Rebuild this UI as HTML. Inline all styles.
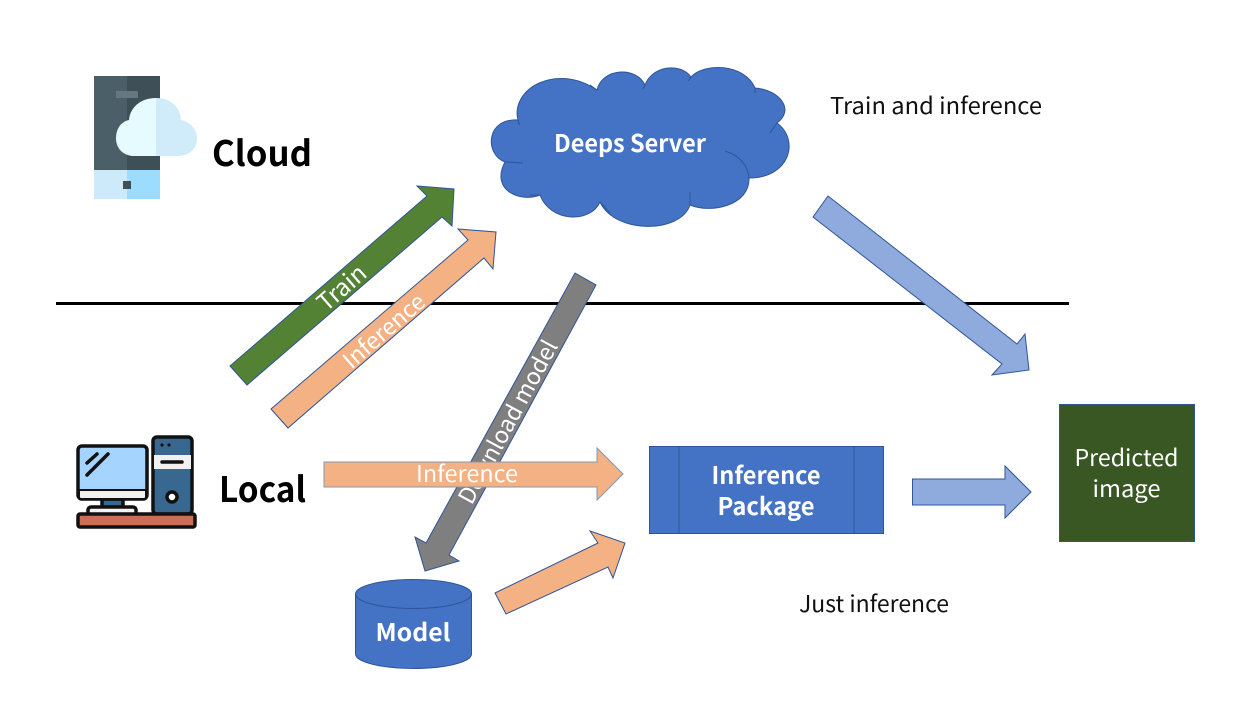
<!DOCTYPE html>
<html><head><meta charset="utf-8"><style>
html,body{margin:0;padding:0;background:#fff}
svg{display:block}
text{font-family:"Noto Sans CJK SC","Liberation Sans",sans-serif}
</style></head><body>
<svg width="1239" height="726" viewBox="0 0 1239 726" xmlns="http://www.w3.org/2000/svg">
<rect width="1239" height="726" fill="#fff"/>

<!-- phone cloud icon -->
<rect x="94" y="76" width="33" height="94" fill="#4a5f68"/>
<rect x="127" y="76" width="33" height="94" fill="#3f4f57"/>
<rect x="94" y="170" width="33" height="29" fill="#cdeafb"/>
<rect x="127" y="170" width="33" height="29" fill="#9bdcff"/>
<rect x="116" y="91" width="22" height="7" fill="#66787f"/>
<rect x="123" y="181" width="8" height="8" fill="#3f4f57"/>
<path d="M156 98C140 98 130 108 129 120C120 122 116 130 116 138C116 150 125 156 134 156H156Z" fill="#e6fbff"/>
<path d="M156 98C172 98 180 108 181 120C191 122 197 130 197 138C197 150 188 156 178 156H156Z" fill="#d0ecfb"/>

<!-- computer icon -->
<g stroke="#111" stroke-width="3.5" stroke-linejoin="round" stroke-linecap="round">
<rect x="102" y="499" width="21" height="8" fill="#38688f"/>
<rect x="88" y="507" width="48" height="8" rx="3" fill="#f4f4f4"/>
<rect x="78" y="446" width="69" height="53" rx="4" fill="#a4d4ff"/>
<path d="M79 490H146V497a2 2 0 0 1-2 2H81a2 2 0 0 1-2-2z" fill="#f1f1f1" stroke-width="2"/>
<path d="M87 463L97 454M87 475L108 454" fill="none"/>
<rect x="153" y="437" width="39" height="77" rx="4" fill="#38688f"/>
<rect x="154" y="455" width="37" height="14" fill="#f1f1f1" stroke="none"/>
<path d="M162 462H182" fill="none"/>
<circle cx="172" cy="497" r="5" fill="#fff"/>
<rect x="78" y="514" width="117" height="13" rx="2" fill="#c96f55"/>
</g>
<circle cx="162" cy="445" r="1.6" fill="#111"/><circle cx="169" cy="445" r="1.6" fill="#111"/>

<text x="212" y="166" font-size="35" font-weight="700" textLength="100" lengthAdjust="spacingAndGlyphs">Cloud</text>
<text x="219" y="502" font-size="35" font-weight="700" textLength="87" lengthAdjust="spacingAndGlyphs">Local</text>

<!-- divider -->
<path d="M56 303.5H1069" stroke="#000" stroke-width="3" fill="none"/>

<!-- server cloud -->
<path d="M518 120C510 90 555 62 597 90C602 68 636 66 645 85C652 66 680 62 691 77C705 62 745 64 755 88C780 90 795 110 777 123C800 140 790 178 749 178C750 205 712 214 690 205C680 234 615 234 600 202C590 224 550 222 540 195C520 203 490 190 505 162C485 155 485 118 518 120Z" fill="#4472c4" stroke="#2f5597" stroke-width="1"/>
<path d="M518 120Q519 124 520 125M590 85L597 90M645 85L643 89M691 77L688 81M755 88L755 93M777 123L770 133M725 151Q747 158 749 178M690 192L690 205M600 202L610 213M530 195L540 195M505 162L523 163" fill="none" stroke="#2f5597" stroke-width="1"/>
<text x="630" y="152" font-size="24" font-weight="700" fill="#fff" text-anchor="middle" textLength="152" lengthAdjust="spacingAndGlyphs">Deeps Server</text>

<text x="830" y="114" font-size="23" fill="#111" textLength="212" lengthAdjust="spacingAndGlyphs">Train and inference</text>
<text x="799" y="612" font-size="23" fill="#111" textLength="150" lengthAdjust="spacingAndGlyphs">Just inference</text>

<!-- green arrow -->
<polygon points="230,366 427,196 417,186 454,189 452,226 442,217 247,385" fill="#548235" stroke="#2f5597" stroke-width="1"/>
<text transform="translate(342,288) rotate(-41)" x="0" y="8" font-size="24" fill="#fff" text-anchor="middle" textLength="56" lengthAdjust="spacingAndGlyphs">Train</text>

<!-- orange inference diagonal -->
<polygon points="271,409 468,240 458,229 496,232 493,269 484,258 288,428" fill="#f4b183" stroke="#2f5597" stroke-width="1"/>
<text transform="translate(384,331) rotate(-41)" x="0" y="8" font-size="23" fill="#fff" text-anchor="middle" textLength="100" lengthAdjust="spacingAndGlyphs">Inference</text>

<!-- big blue arrow -->
<polygon points="828,196 1017,344 1025,334 1029,370 992,375 1002,364 813,217" fill="#8faadc" stroke="#2f5597" stroke-width="1"/>

<!-- gray arrow -->
<polygon points="575,273 596,285 449,555 459,561 425,571 415,537 426,543" fill="#7f7f7f" stroke="#2f5597" stroke-width="1"/>
<text transform="translate(508,422) rotate(-61.5)" x="0" y="8" font-size="23" fill="#fff" text-anchor="middle" textLength="182" lengthAdjust="spacingAndGlyphs">Download model</text>

<!-- horizontal inference -->
<polygon points="324,462 597,462 597,448 623,474 597,500 597,487 324,487" fill="#f4b183" stroke="#8497b0" stroke-width="1"/>
<text x="467" y="482" font-size="23" fill="#fff" text-anchor="middle" textLength="102" lengthAdjust="spacingAndGlyphs">Inference</text>

<!-- small orange -->
<polygon points="495,593 598,543 590,531 625,543 613,578 608,567 506,614" fill="#f4b183" stroke="#2f5597" stroke-width="1"/>

<!-- model -->
<path d="M355.5 594V654A58 14.5 0 0 0 471.5 654V594A58 14.5 0 0 0 355.5 594Z" fill="#4472c4" stroke="#2f5597" stroke-width="1"/>
<path d="M355.5 594A58 14.5 0 0 0 471.5 594" fill="none" stroke="#2f5597" stroke-width="1"/>
<text x="413" y="641" font-size="24" font-weight="700" fill="#fff" text-anchor="middle" textLength="75" lengthAdjust="spacingAndGlyphs">Model</text>

<!-- package -->
<rect x="649.5" y="446.5" width="234" height="87" fill="#4472c4" stroke="#2f5597" stroke-width="1"/>
<path d="M679 446V533M854 446V533" stroke="#2f5597" stroke-width="1" fill="none"/>
<text x="766" y="484" font-size="24" font-weight="700" fill="#fff" text-anchor="middle" textLength="109" lengthAdjust="spacingAndGlyphs">Inference</text>
<text x="766" y="515" font-size="24" font-weight="700" fill="#fff" text-anchor="middle" textLength="97" lengthAdjust="spacingAndGlyphs">Package</text>

<!-- small blue arrow -->
<polygon points="912.5,479 1005,479 1005,466 1031,492 1005,518 1005,505 912.5,505" fill="#8faadc" stroke="#2f5597" stroke-width="1"/>

<!-- predicted -->
<rect x="1059.5" y="404.5" width="135" height="137" fill="#385723" stroke="#2f5597" stroke-width="1"/>
<text x="1126.5" y="466" font-size="23" fill="#fff" text-anchor="middle" textLength="104" lengthAdjust="spacingAndGlyphs">Predicted</text>
<text x="1126.5" y="497" font-size="23" fill="#fff" text-anchor="middle" textLength="68" lengthAdjust="spacingAndGlyphs">image</text>
</svg>
</body></html>
